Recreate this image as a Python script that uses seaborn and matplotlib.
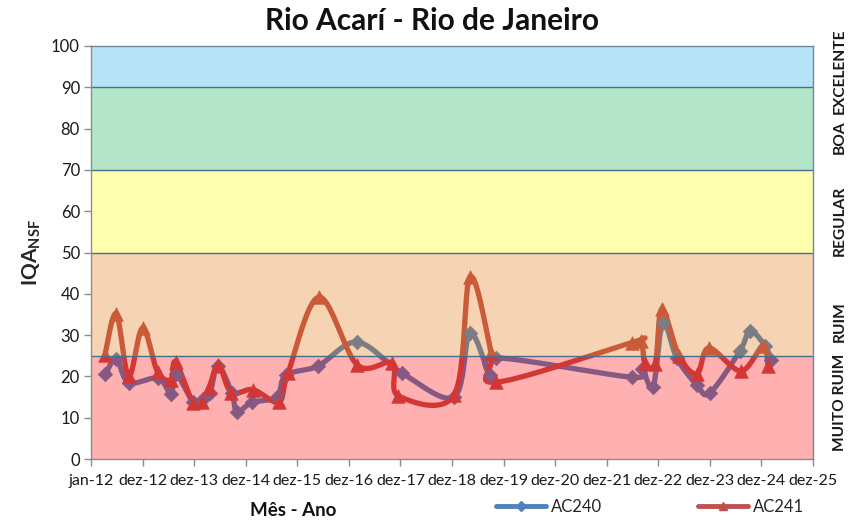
import numpy as np
import pandas as pd
import matplotlib
matplotlib.use("Agg")
import matplotlib.pyplot as plt
import seaborn as sns
from matplotlib.lines import Line2D

# ---------------- data ----------------
tick_labels = ["jan-12", "dez-12", "dez-13", "dez-14", "dez-15", "dez-16", "dez-17",
               "dez-18", "dez-19", "dez-20", "dez-21", "dez-22", "dez-23", "dez-24", "dez-25"]

# x = position on the time axis (years after jan-12)
ac240_x = [0.28, 0.49, 0.73, 1.30, 1.55, 1.65, 1.98, 2.17, 2.31, 2.46, 2.73, 2.83, 3.12, 3.60,
           3.78, 4.40, 5.16, 6.03, 7.04, 7.35, 7.74, 7.86, 10.49, 10.68, 10.90, 11.09, 11.36,
           11.75, 12.00, 12.58, 12.78, 13.07, 13.19]
ac240_y = [20.5, 24.3, 18.5, 19.6, 15.8, 20.6, 13.8, 14.5, 16.0, 22.6, 16.0, 11.5, 13.7, 15.0,
           20.3, 22.5, 28.3, 20.8, 15.0, 30.5, 20.3, 24.5, 19.8, 21.8, 17.5, 32.9, 24.4,
           17.9, 16.0, 26.1, 31.0, 27.4, 24.0]

ac241_x = [0.27, 0.49, 0.73, 1.00, 1.29, 1.55, 1.64, 1.98, 2.16, 2.29, 2.47, 2.72, 3.14, 3.64,
           3.82, 4.42, 5.16, 5.84, 5.96, 7.04, 7.35, 7.76, 7.86, 10.49, 10.67, 10.74, 10.94,
           11.07, 11.40, 11.75, 11.98, 12.60, 13.03, 13.13]
ac241_y = [25.2, 35.2, 20.0, 31.7, 21.1, 19.2, 23.5, 13.6, 13.9, 17.3, 22.8, 16.1, 16.8, 13.8,
           20.8, 39.2, 22.8, 23.2, 15.3, 15.5, 44.1, 25.7, 18.6, 28.2, 28.6, 23.3, 23.0,
           36.3, 25.0, 20.6, 26.9, 21.3, 27.4, 22.6]

band_edges = [0, 25, 50, 70, 90, 100]
band_names = ["MUITO RUIM", "RUIM", "REGULAR", "BOA", "EXCELENTE"]
band_label_y = [13.8, 33.2, 57.6, 78.0, 94.0]
band_visible = [(255, 176, 176), (246, 211, 179), (255, 255, 168), (180, 230, 200), (182, 228, 246)]

# ---------------- style ----------------
sns.set_theme(style="white")
plt.rcParams["font.family"] = ["Lato", "DejaVu Sans"]
plt.rcParams["mathtext.fontset"] = "custom"
plt.rcParams["mathtext.rm"] = "Lato"
plt.rcParams["mathtext.bf"] = "Lato:bold"

BLUE = "#4f81bd"
RED = "#c0504d"
ALPHA = 0.31

fig = plt.figure(figsize=(8.48, 5.21), dpi=100)
ax = fig.add_axes([91 / 848, 1 - 459 / 521, 722 / 848, 413 / 521])
ax.set_facecolor("white")
ax.set_xlim(0, 14)
ax.set_ylim(0, 100)

# pixel scale for smoothing in display-like space
SX, SY = 722 / 14, 413 / 100


def smooth(x, y, n=24):
    P = np.column_stack([np.asarray(x) * SX, np.asarray(y) * SY])
    out = []
    m = len(P)
    t = np.linspace(0, 1, n)[:, None]
    for i in range(m - 1):
        p0 = P[max(i - 1, 0)]
        p1 = P[i]
        p2 = P[i + 1]
        p3 = P[min(i + 2, m - 1)]
        c1 = p1 + (p2 - p0) / 6
        c2 = p2 - (p3 - p1) / 6
        B = ((1 - t) ** 3) * p1 + 3 * ((1 - t) ** 2) * t * c1 + 3 * (1 - t) * t ** 2 * c2 + t ** 3 * p2
        out.append(B if i == 0 else B[1:])
    B = np.vstack(out)
    return B[:, 0] / SX, B[:, 1] / SY


for xs, ys, col, mk, ms in [(ac240_x, ac240_y, BLUE, "D", 55), (ac241_x, ac241_y, RED, "^", 95)]:
    sx, sy = smooth(xs, ys)
    df_line = pd.DataFrame({"x": sx, "y": sy})
    sns.lineplot(data=df_line, x="x", y="y", sort=False, estimator=None, color=col,
                 linewidth=3.8, ax=ax, zorder=1, legend=False)
    df_pts = pd.DataFrame({"x": xs, "y": ys})
    sns.scatterplot(data=df_pts, x="x", y="y", marker=mk, s=ms, color=col,
                    edgecolor=col, linewidth=0.5, ax=ax, zorder=2, legend=False)

# translucent bands on top of the series
for (lo, hi), vis in zip(zip(band_edges[:-1], band_edges[1:]), band_visible):
    c = [min(max((v - (1 - ALPHA) * 255) / ALPHA, 0), 255) / 255 for v in vis]
    ax.axhspan(lo, hi, color=c, alpha=ALPHA, zorder=3, lw=0)

for e in band_edges[1:-1]:
    ax.axhline(e, color="#4a6d8c", lw=1.0, zorder=4)

for s in ax.spines.values():
    s.set_color("#6f86a0")
    s.set_linewidth(1.0)
    s.set_zorder(5)
    s.set_visible(True)
ax.spines["left"].set_color("#8c8c8c")
ax.spines["bottom"].set_color("#8c8c8c")

ax.set_xticks(range(len(tick_labels)))
ax.set_xticklabels(tick_labels)
ax.set_yticks(range(0, 101, 10))
ax.tick_params(axis="both", which="major", direction="out", length=5, width=1,
               color="#8c8c8c", labelsize=11.5, labelcolor="#1a1a1a", pad=3,
               bottom=True, left=True)
ax.tick_params(axis="x", pad=6)
ax.tick_params(axis="y", labelsize=12)
ax.set_xlabel("")
ax.set_ylabel(r"IQA$_{\mathbf{NSF}}$", fontsize=15, fontweight="bold", labelpad=6)

for name, yv in zip(band_names, band_label_y):
    ax.text(1.037, yv, name, transform=ax.get_yaxis_transform(), rotation=90,
            ha="center", va="center", fontsize=11.2, fontweight="bold", color="#1a1a1a")

fig.text(432 / 848, 1 - 21 / 521, "Rio Acarí - Rio de Janeiro", ha="center", va="center",
         fontsize=21.5, fontweight="bold", color="#111111")
fig.text(293 / 848, 1 - 510 / 521, "Mês - Ano", ha="center", va="center",
         fontsize=13.5, fontweight="bold", color="#111111")

handles = [Line2D([], [], color=BLUE, lw=3.5, marker="D", ms=5),
           Line2D([], [], color=RED, lw=3.5, marker="^", ms=6)]
fig.legend(handles, ["AC240", "AC241"], loc="center", ncol=2,
           bbox_to_anchor=(650 / 848, 1 - 507 / 521), frameon=False, fontsize=12,
           handlelength=3.0, handletextpad=0.3, columnspacing=5.8)

fig.savefig("out.png", dpi=100)
